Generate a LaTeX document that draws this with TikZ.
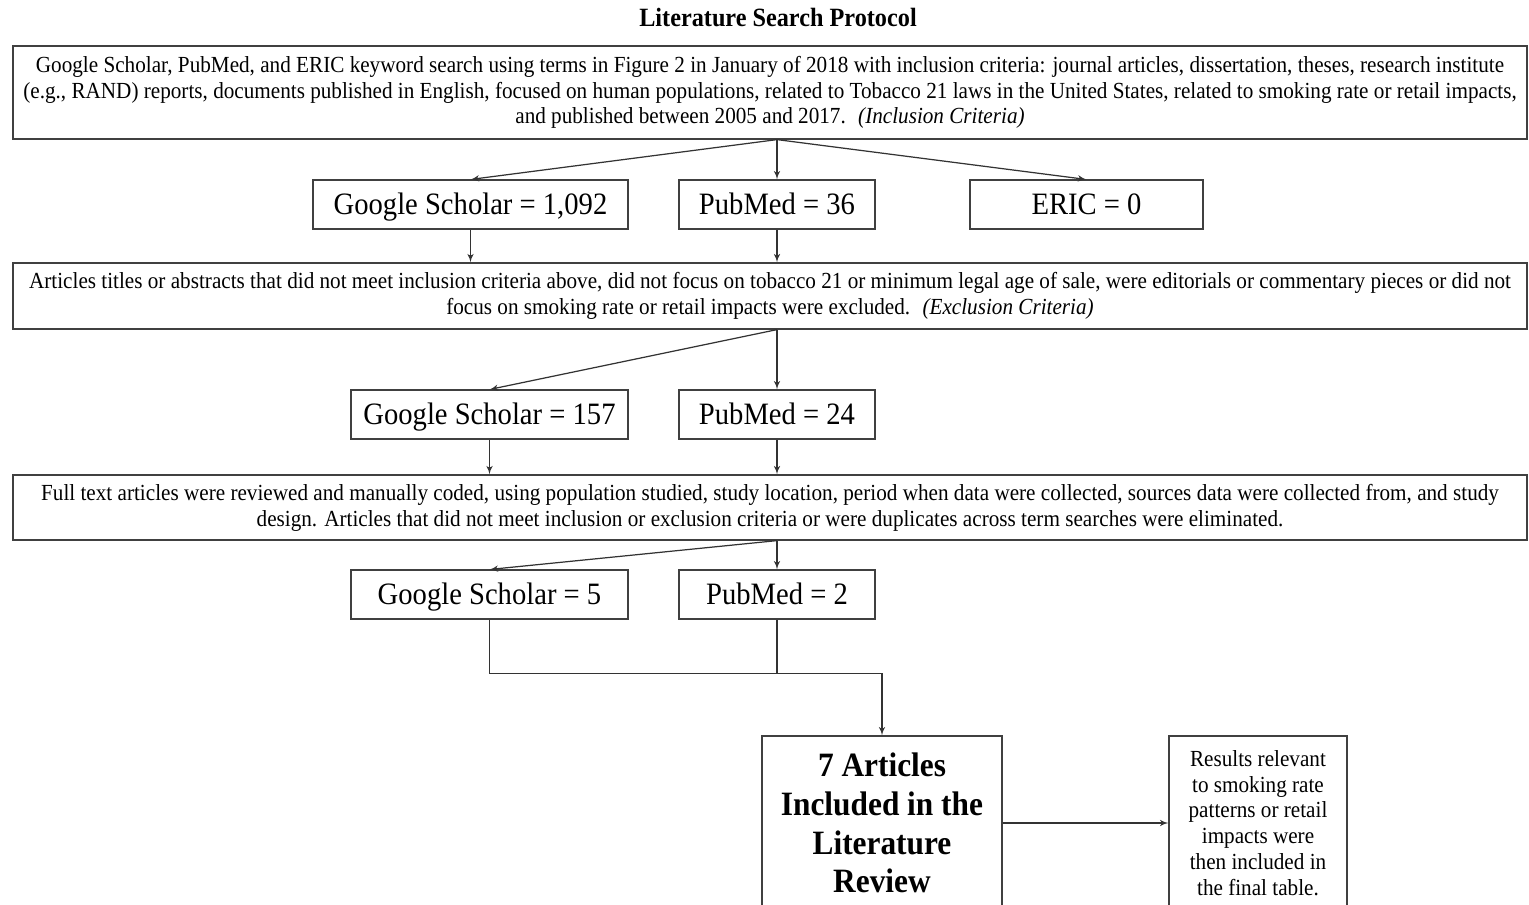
\documentclass[tikz,border=0pt]{standalone}
\usepackage{fontspec}
\setmainfont{Liberation Serif}[FakeStretch=0.92]
\usetikzlibrary{arrows,positioning,calc}

\begin{document}
\begin{tikzpicture}[>=latex', x=0.02cm, y=-0.02cm]
      \tikzset{
	  bigbox/.style={draw=black!75, line width=0.7pt, minimum width=1514*0.02cm, align=center, inner sep=0pt, font=\fontsize{13.1}{14.7}\selectfont},
	  countbox/.style={draw=black!75, line width=0.6pt, minimum height=49*0.02cm, inner sep=0pt, text height=11.7pt, text depth=0.5pt, font=\fontsize{17.7}{20}\selectfont},
	  link/.style={draw=black!80, line width=0.7pt},
      }
      \useasboundingbox (0,0) rectangle (1529,905);

      \node (title) at (778,18) [font=\bfseries\fontsize{15}{17}\selectfont] {Literature Search Protocol};

      % search and inclusion
      \node (incl) at (770,92.5) [bigbox, minimum height=93*0.02cm] {Google Scholar, PubMed, and ERIC keyword search using terms in Figure 2 in January of 2018 with inclusion criteria: journal articles, dissertation, theses, research institute\\(e.g., RAND) reports, documents published in English, focused on human populations, related to Tobacco 21 laws in the United States, related to smoking rate or retail impacts,\\and published between 2005 and 2017. \ \textit{(Inclusion Criteria)}};

      \node (gsa) at (470.5,204.5) [countbox, minimum width=315*0.02cm] {Google Scholar = 1,092};
      \node (pma) at (777,204.5) [countbox, minimum width=196*0.02cm] {PubMed = 36};
      \node (era) at (1086.5,204.5) [countbox, minimum width=233*0.02cm] {ERIC = 0};

      % exclusion
      \node (excl) at (770,296) [bigbox, minimum height=66*0.02cm] {Articles titles or abstracts that did not meet inclusion criteria above, did not focus on tobacco 21 or minimum legal age of sale, were editorials or commentary pieces or did not\\focus on smoking rate or retail impacts were excluded. \ \textit{(Exclusion Criteria)}};

      \node (gsb) at (489.5,414.5) [countbox, minimum width=277*0.02cm] {Google Scholar = 157};
      \node (pmb) at (777,414.5) [countbox, minimum width=196*0.02cm] {PubMed = 24};

      % full text review
      \node (full) at (770,507.5) [bigbox, minimum height=65*0.02cm] {Full text articles were reviewed and manually coded, using population studied, study location, period when data were collected, sources data were collected from, and study\\design. Articles that did not meet inclusion or exclusion criteria or were duplicates across term searches were eliminated.};

      \node (gsc) at (489.5,594.5) [countbox, minimum width=277*0.02cm] {Google Scholar = 5};
      \node (pmc) at (777,594.5) [countbox, minimum width=196*0.02cm] {PubMed = 2};

      % result
      \node (final) at (882,823) [draw=black!75, line width=0.6pt, minimum width=240*0.02cm, minimum height=174*0.02cm, align=center, inner sep=0pt, font=\bfseries\fontsize{19.4}{22.1}\selectfont] {7 Articles\\Included in the\\Literature\\Review};
      \node (table) at (1258,823) [draw=black!75, line width=0.6pt, minimum width=178*0.02cm, minimum height=174*0.02cm, align=center, inner sep=0pt, font=\fontsize{13.1}{14.7}\selectfont] {Results relevant\\to smoking rate\\patterns or retail\\impacts were\\then included in\\the final table.};

      \draw [link,->] (incl.south -| pma.north) -- (gsa.north);
      \draw [link,->] (incl.south -| pma.north) -- (pma.north);
      \draw [link,->] (incl.south -| pma.north) -- (era.north);
      \draw [link,->] (gsa.south) -- (gsa.south |- excl.north);
      \draw [link,->] (pma.south) -- (pma.south |- excl.north);

      \draw [link,->] (excl.south -| pmb.north) -- (gsb.north);
      \draw [link,->] (excl.south -| pmb.north) -- (pmb.north);
      \draw [link,->] (gsb.south) -- (gsb.south |- full.north);
      \draw [link,->] (pmb.south) -- (pmb.south |- full.north);

      \draw [link,->] (full.south -| pmc.north) -- (gsc.north);
      \draw [link,->] (full.south -| pmc.north) -- (pmc.north);

      \draw [link,->] (gsc.south) -- ++(0,54) -| (final.north);
      \draw [link] (pmc.south) -- ++(0,54);
      \draw [link,->] (final.east) -- (table.west);
\end{tikzpicture}
\end{document}
